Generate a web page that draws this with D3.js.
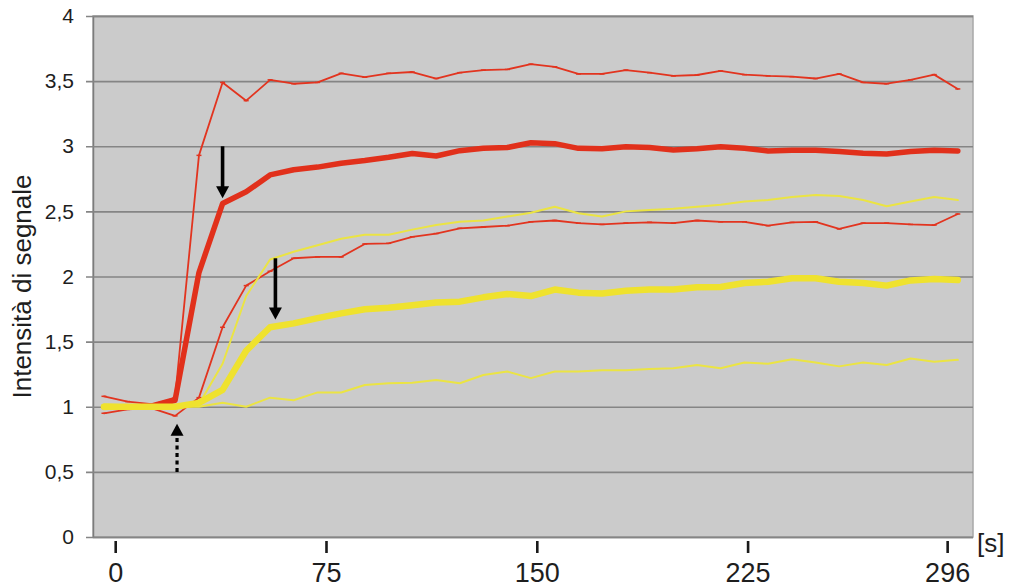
<!DOCTYPE html>
<html>
<head>
<meta charset="utf-8">
<script src="https://cdn.jsdelivr.net/npm/d3@7"></script>
<style>
  body { margin: 0; background: #fff; }
  svg { display: block; font-family: "Liberation Sans", Arial, sans-serif; }
</style>
</head>
<body>
<svg id="chart" width="1010" height="587"></svg>
<script>
// Acquisition times (s) of each sample
const times = [-4, 4.4, 12.9, 21.3, 29.8, 38.2, 46.6, 55.1, 63.5, 72.0, 80.4, 88.8, 97.3,
  105.7, 114.2, 122.6, 131.0, 139.5, 147.9, 156.4, 164.8, 173.2, 181.7, 190.1, 198.6,
  207.0, 215.4, 223.9, 232.3, 240.8, 249.2, 257.6, 266.1, 274.5, 283.0, 291.4, 299.8];

// Relative signal intensity, red region (upper bound, mean, lower bound)
const redUpper = [1.08, 1.04, 1.02, 1.07, 2.93, 3.49, 3.35, 3.51, 3.48, 3.49, 3.56, 3.53, 3.56,
  3.57, 3.52, 3.565, 3.585, 3.59, 3.63, 3.61, 3.555, 3.555, 3.585, 3.565, 3.54,
  3.547, 3.578, 3.55, 3.54, 3.534, 3.52, 3.555, 3.49, 3.48, 3.51, 3.55, 3.44];
const redMean = [1.0, 1.0, 1.0, 1.05, 2.03, 2.56, 2.65, 2.78, 2.82, 2.84, 2.87, 2.89, 2.915,
  2.945, 2.925, 2.966, 2.984, 2.99, 3.027, 3.02, 2.984, 2.98, 2.997, 2.99, 2.971,
  2.98, 2.997, 2.984, 2.964, 2.97, 2.97, 2.96, 2.946, 2.94, 2.96, 2.97, 2.964];
const redLower = [0.95, 0.98, 0.99, 0.93, 1.07, 1.61, 1.93, 2.04, 2.14, 2.15, 2.15, 2.25, 2.255,
  2.305, 2.33, 2.37, 2.38, 2.39, 2.42, 2.43, 2.41, 2.40, 2.41, 2.416, 2.41,
  2.43, 2.42, 2.42, 2.39, 2.415, 2.42, 2.365, 2.41, 2.41, 2.40, 2.395, 2.48];

// Relative signal intensity, yellow region (upper bound, mean, lower bound)
const yellowUpper = [1.02, 1.01, 1.0, 1.0, 1.02, 1.33, 1.85, 2.13, 2.19, 2.24, 2.29, 2.32, 2.32,
  2.36, 2.395, 2.42, 2.43, 2.46, 2.49, 2.536, 2.485, 2.46, 2.50, 2.51, 2.52,
  2.536, 2.55, 2.575, 2.587, 2.61, 2.626, 2.618, 2.587, 2.54, 2.575, 2.61, 2.587];
const yellowMean = [1.0, 1.0, 1.0, 1.0, 1.03, 1.13, 1.43, 1.61, 1.64, 1.68, 1.717, 1.748, 1.76,
  1.78, 1.80, 1.807, 1.84, 1.866, 1.85, 1.90, 1.876, 1.87, 1.89, 1.90, 1.90,
  1.917, 1.92, 1.95, 1.96, 1.986, 1.986, 1.96, 1.95, 1.93, 1.97, 1.98, 1.973];
const yellowLower = [0.98, 0.99, 1.0, 1.0, 1.0, 1.03, 1.0, 1.07, 1.05, 1.11, 1.11, 1.167, 1.18,
  1.185, 1.205, 1.18, 1.244, 1.27, 1.22, 1.27, 1.27, 1.28, 1.28, 1.29, 1.295,
  1.32, 1.295, 1.34, 1.33, 1.364, 1.34, 1.31, 1.34, 1.32, 1.37, 1.346, 1.36];

// Axis ticks
const yTicks = [0, 0.5, 1, 1.5, 2, 2.5, 3, 3.5, 4];
const xTicks = [0, 75, 150, 225, 296];

// Arrows marking contrast arrival and enhancement points (time, start value, tip value)
const arrowNotes = [
  { t: 38.2, from: 3.0, to: 2.6, dashed: false },
  { t: 57, from: 2.14, to: 1.67, dashed: false },
  { t: 22, from: 0.5, to: 0.87, dashed: true }
];

const svg = d3.select("#chart");
const plot = { left: 93, top: 16, right: 973, bottom: 537 };

const x = d3.scaleLinear().domain([-7.9, 305.2]).range([plot.left, plot.right]);
const y = d3.scaleLinear().domain([0, 4]).range([plot.bottom, plot.top]);

// plot background
svg.append("rect")
  .attr("x", plot.left).attr("y", plot.top)
  .attr("width", plot.right - plot.left).attr("height", plot.bottom - plot.top)
  .attr("fill", "#cbcbcb")
  .attr("stroke", "#a8a8a8").attr("stroke-width", 1.5);

// horizontal gridlines + y axis
const yAxis = d3.axisLeft(y)
  .tickValues(yTicks)
  .tickSize(-(plot.right - plot.left))
  .tickPadding(12)
  .tickFormat(d => d3.format("~g")(d).replace(".", ","));
const gy = svg.append("g")
  .attr("transform", `translate(${plot.left},0)`)
  .call(yAxis);
gy.select(".domain").attr("stroke", "#7c7c7c").attr("stroke-width", 1.5);
gy.selectAll(".tick line")
  .attr("x1", -7)
  .attr("stroke", "#858585").attr("stroke-width", 1.6);
gy.selectAll(".tick text")
  .attr("font-size", 21).attr("fill", "#1e1e1e")
  .attr("x", -19);

// x axis: ticks below the plot
const gx = svg.append("g")
  .attr("transform", `translate(0,${plot.bottom})`)
  .call(d3.axisBottom(x).tickValues(xTicks).tickSize(0).tickFormat(d3.format("d")));
gx.select(".domain").remove();
gx.selectAll(".tick").append("line")
  .attr("y1", 4).attr("y2", 16)
  .attr("stroke", "#1a1a1a").attr("stroke-width", 2.6);
gx.selectAll(".tick text")
  .attr("y", 45).attr("dy", 0)
  .attr("font-size", 27).attr("fill", "#1e1e1e");

// unit label
svg.append("text")
  .attr("x", plot.right + 4).attr("y", 552)
  .attr("font-size", 26).attr("fill", "#1e1e1e")
  .text("[s]");

// y axis title
svg.append("text")
  .attr("transform", `translate(31,${(plot.top + plot.bottom) / 2 + 10}) rotate(-90)`)
  .attr("text-anchor", "middle")
  .attr("font-size", 26).attr("fill", "#1e1e1e")
  .text("Intensità di segnale");

// curves
const series = [
  { values: redUpper, color: "#e2341f", width: 1.8, marks: true },
  { values: redLower, color: "#e2341f", width: 1.8, marks: true },
  { values: redMean, color: "#e1301b", width: 5.5, marks: false },
  { values: yellowLower, color: "#ebe443", width: 2, marks: false },
  { values: yellowUpper, color: "#ebe443", width: 2, marks: false },
  { values: yellowMean, color: "#efe22e", width: 6.5, marks: false }
];

const line = d3.line()
  .x((d, i) => x(times[i]))
  .y(d => y(d));

const gLines = svg.append("g");
series.forEach(s => {
  gLines.append("path")
    .datum(s.values)
    .attr("fill", "none")
    .attr("stroke", s.color)
    .attr("stroke-width", s.width)
    .attr("stroke-linejoin", "round")
    .attr("stroke-linecap", "round")
    .attr("d", line);
  if (s.marks) {
    gLines.append("g").selectAll("line")
      .data(s.values)
      .join("line")
      .attr("x1", (d, i) => x(times[i]) - 2.5)
      .attr("x2", (d, i) => x(times[i]) + 2.5)
      .attr("y1", d => y(d)).attr("y2", d => y(d))
      .attr("stroke", s.color).attr("stroke-width", 1.5);
  }
});

// arrows
const gArrows = svg.append("g");
arrowNotes.forEach(a => {
  const ax = x(a.t);
  const y0 = y(a.from), tip = y(a.to);
  const dir = Math.sign(tip - y0);
  const headLen = 12, headHalf = 6.5;
  gArrows.append("line")
    .attr("x1", ax).attr("x2", ax)
    .attr("y1", y0).attr("y2", tip - dir * (headLen - 1))
    .attr("stroke", "#000")
    .attr("stroke-width", a.dashed ? 3.2 : 3.6)
    .attr("stroke-dasharray", a.dashed ? "4,3.5" : null);
  gArrows.append("path")
    .attr("d", `M${ax - headHalf},${tip - dir * headLen} L${ax + headHalf},${tip - dir * headLen} L${ax},${tip} Z`)
    .attr("fill", "#000");
});
</script>
</body>
</html>
